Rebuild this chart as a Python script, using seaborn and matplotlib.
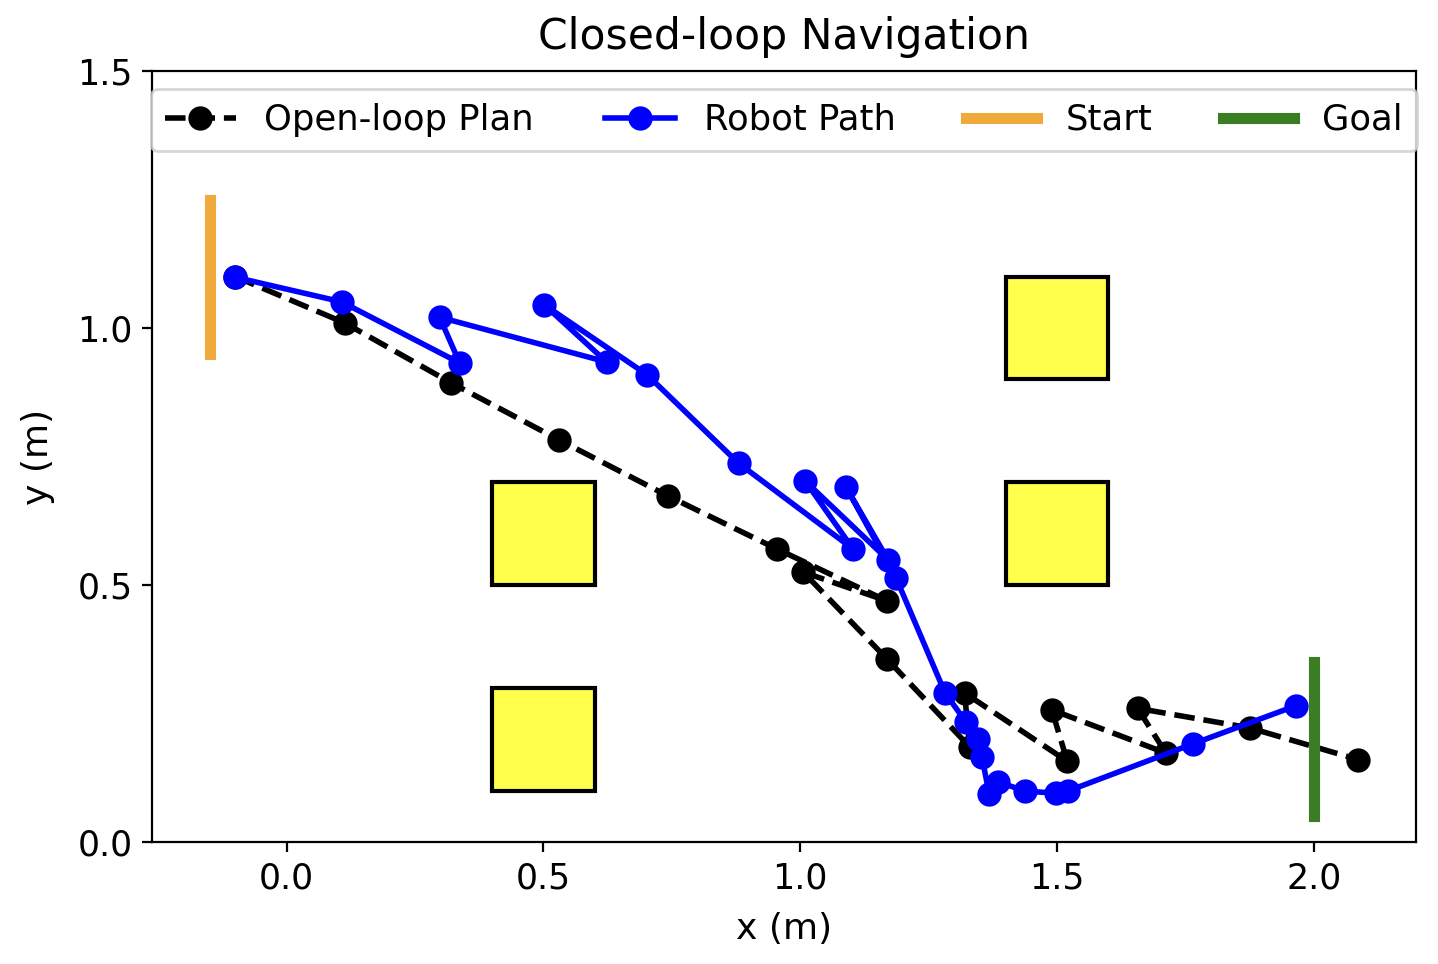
import numpy as np
import pandas as pd
import seaborn as sns
import matplotlib.pyplot as plt
from matplotlib.patches import Rectangle

# open-loop plan
plan_x = [-0.10, 0.113, 0.321, 0.531, 0.743, 0.955, 1.169, 1.006, 1.169, 1.330, 1.320,
          1.520, 1.490, 1.712, 1.657, 1.875, 2.087]
plan_y = [1.100, 1.010, 0.893, 0.782, 0.673, 0.570, 0.469, 0.525, 0.356, 0.185, 0.290,
          0.157, 0.257, 0.173, 0.260, 0.222, 0.160]

# robot path
robot_x = [-0.101, 0.107, 0.337, 0.298, 0.623, 0.502, 0.702, 0.880, 1.103, 1.010, 1.171,
           1.089, 1.187, 1.282, 1.323, 1.346, 1.354, 1.368, 1.385, 1.438, 1.498, 1.521,
           1.765, 1.965]
robot_y = [1.099, 1.051, 0.932, 1.021, 0.934, 1.045, 0.909, 0.737, 0.570, 0.702, 0.549,
           0.691, 0.513, 0.290, 0.233, 0.200, 0.165, 0.093, 0.117, 0.099, 0.095, 0.099,
           0.191, 0.265]

# obstacles: lower-left corners, all 0.2 x 0.2
obstacle_x = [0.4, 0.4, 1.4, 1.4]
obstacle_y = [0.5, 0.1, 0.5, 0.9]
obstacle_size = 0.2

start_x, start_y = -0.15, [0.95, 1.25]
goal_x, goal_y = 2.0, [0.05, 0.35]

plt.rcParams['font.size'] = 12.5

fig = plt.figure(figsize=(7.19, 4.82), dpi=200)
ax = fig.add_axes([0.1057, 0.1266, 0.8790, 0.7997])

for ox, oy in zip(obstacle_x, obstacle_y):
    ax.add_patch(Rectangle((ox, oy), obstacle_size, obstacle_size,
                           facecolor='yellow', alpha=0.7, edgecolor='none'))
    ax.add_patch(Rectangle((ox, oy), obstacle_size, obstacle_size,
                           facecolor='none', edgecolor='black', linewidth=1.5))

plan = pd.DataFrame({'x': plan_x, 'y': plan_y})
robot = pd.DataFrame({'x': robot_x, 'y': robot_y})

sns.lineplot(data=plan, x='x', y='y', sort=False, estimator=None, ax=ax,
             color='black', linestyle='--', linewidth=2, marker='o', markersize=8,
             markeredgecolor='black', label='Open-loop Plan')
sns.lineplot(data=robot, x='x', y='y', sort=False, estimator=None, ax=ax,
             color='blue', linewidth=2, marker='o', markersize=8,
             markeredgecolor='blue', label='Robot Path')

ax.plot([start_x, start_x], start_y, color='#F0AA3C', linewidth=4, label='Start')
ax.plot([goal_x, goal_x], goal_y, color='#3A7D23', linewidth=4, label='Goal')

ax.set_xlim(-0.262, 2.199)
ax.set_ylim(0, 1.5)
ax.set_xticks([0.0, 0.5, 1.0, 1.5, 2.0])
ax.set_yticks([0.0, 0.5, 1.0, 1.5])
ax.set_xlabel('x (m)', fontsize=13, labelpad=6)
ax.set_ylabel('y (m)', fontsize=13, labelpad=8)
ax.set_title('Closed-loop Navigation', fontsize=15.3, pad=8)
ax.legend(loc='upper center', ncol=4, fontsize=12.75)

fig.savefig('out.png', dpi=200)
